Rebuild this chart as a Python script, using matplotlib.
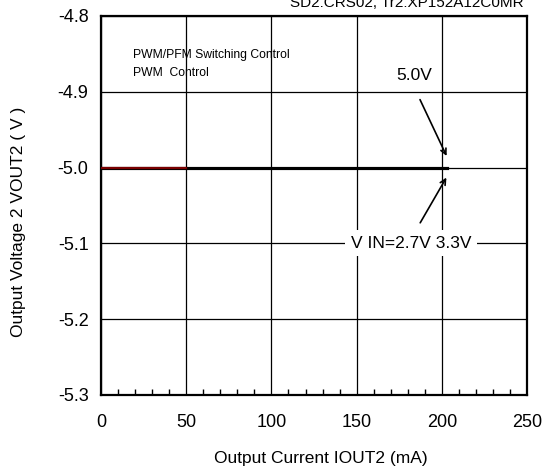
import matplotlib
matplotlib.use("Agg")
import matplotlib.pyplot as plt

# dane
iout = [0, 50, 100, 150, 203]
vout_27 = [-5.0, -5.0, -5.0, -5.0, -5.0]
vout_33 = [-5.0, -5.0, -5.0, -5.0, -5.0]
vout_50 = [-5.0, -5.0, -5.0, -5.0, -5.0]
iout_red = [0, 50]
vout_red = [-5.0, -5.0]

xticks = [0, 50, 100, 150, 200, 250]
yticks = [-5.3, -5.2, -5.1, -5.0, -4.9, -4.8]

plt.rcParams['font.family'] = ['Liberation Sans', 'DejaVu Sans']

fig = plt.figure(figsize=(5.44, 4.69), dpi=100)
ax = fig.add_axes([0.1857, 0.1578, 0.7831, 0.8081])

ax.set_xlim(0, 250)
ax.set_ylim(-5.3, -4.8)
ax.set_xticks(xticks)
ax.set_yticks(yticks)
ax.set_xticklabels([str(t) for t in xticks])
ax.set_yticklabels(["%.1f" % t for t in yticks])
ax.set_xticks(range(0, 251, 10), minor=True)
ax.tick_params(axis='x', which='minor', direction='in', length=4, width=1, top=False)
ax.tick_params(axis='both', which='major', length=0, labelsize=13)
ax.tick_params(axis='x', which='major', pad=14)
ax.tick_params(axis='y', which='major', pad=9)
ax.grid(True, which='major', color='black', linewidth=0.9)
for s in ax.spines.values():
    s.set_linewidth(1.6)

ax.plot(iout, vout_27, color='black', linewidth=2.2, zorder=3)
ax.plot(iout, vout_33, color='black', linewidth=2.2, zorder=3)
ax.plot(iout, vout_50, color='black', linewidth=2.2, zorder=3)
ax.plot(iout_red, vout_red, color='#7a0000', linewidth=1.6, zorder=4)

ax.text(19, -4.851, "PWM/PFM Switching Control", fontsize=8.7, va='center', ha='left')
ax.text(19, -4.875, "PWM  Control", fontsize=8.7, va='center', ha='left')

box = dict(facecolor='white', edgecolor='none', pad=4)
ax.text(184, -4.878, "5.0V", fontsize=12.5, ha='center', va='center', bbox=box, zorder=5)
ax.annotate("", xy=(203.5, -4.988), xytext=(186.5, -4.907),
            arrowprops=dict(arrowstyle='->', color='black', lw=1.2), zorder=5)
ax.text(182, -5.0995, "V IN=2.7V 3.3V", fontsize=12.5, ha='center', va='center', bbox=box, zorder=5)
ax.annotate("", xy=(203.5, -5.010), xytext=(186.5, -5.076),
            arrowprops=dict(arrowstyle='->', color='black', lw=1.2), zorder=5)

ax.set_xlabel("Output Current IOUT2 (mA)", fontsize=12.5)
ax.set_ylabel("Output Voltage 2 VOUT2 ( V )", fontsize=12.5)
ax.xaxis.set_label_coords(0.517, -0.148)
ax.yaxis.set_label_coords(-0.176, 0.456)

fig.text(0.963, 0.985, "SD2:CRS02, Tr2:XP152A12C0MR", fontsize=11, ha='right', va='baseline')

fig.savefig("out.png", dpi=100)
